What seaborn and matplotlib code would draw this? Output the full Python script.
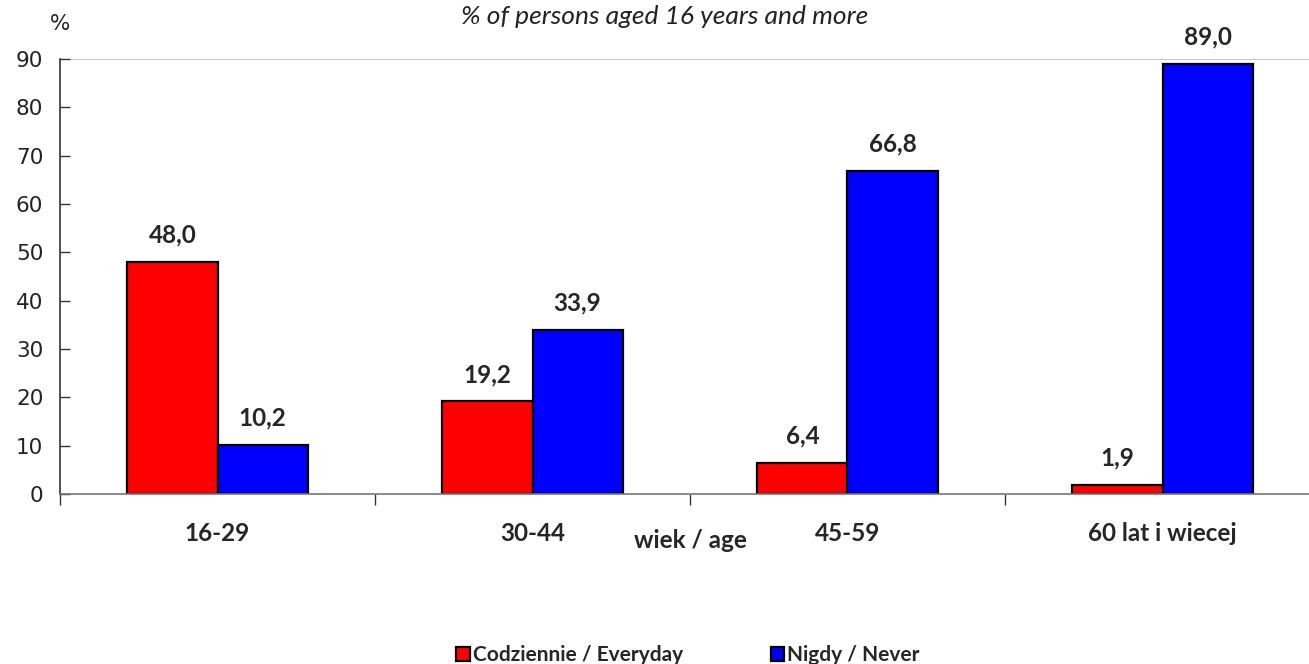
import matplotlib
matplotlib.use("Agg")
import matplotlib.pyplot as plt
import seaborn as sns
import pandas as pd

categories = ["16-29", "30-44", "45-59", "60 lat i wiecej"]
series_names = ["Codziennie / Everyday", "Nigdy / Never"]
everyday = [48.0, 19.2, 6.4, 1.9]
never = [10.2, 33.9, 66.8, 89.0]
y_ticks = [0, 10, 20, 30, 40, 50, 60, 70, 80, 90]

df = pd.DataFrame({
    "age": categories * 2,
    "series": [series_names[0]] * 4 + [series_names[1]] * 4,
    "value": everyday + never,
})

sns.set_theme(style="white")
plt.rcParams['font.family'] = ['Lato', 'DejaVu Sans']

fig = plt.figure(figsize=(13.09, 6.64), dpi=100)
ax = fig.add_axes([60 / 1309, 170 / 664, 1260 / 1309, 435 / 664])

sns.barplot(data=df, x="age", y="value", hue="series", order=categories,
            hue_order=series_names, palette=["#ff0000", "#0000ff"],
            width=0.572, edgecolor="black", linewidth=1.6, saturation=1,
            ax=ax, legend=True)

for cont in ax.containers:
    labels = [f"{b.get_height():.1f}".replace(".", ",") for b in cont]
    ax.bar_label(cont, labels=labels, padding=11, fontsize=17.5, fontweight="bold")

ax.set_xlim(-0.5, 3.5)
ax.set_ylim(0, 90)
ax.set_yticks(y_ticks, labels=[str(t) for t in y_ticks],
              fontsize=15.5, family="DejaVu Sans", color="#222222")
ax.tick_params(axis="y", direction="in", length=7, width=1, color="#333333",
               pad=12, left=True)
ax.tick_params(axis="x", which="major", length=0, pad=20, labelsize=17.5)
for lab in ax.get_xticklabels():
    lab.set_fontweight("bold")
ax.set_xticks([-0.5, 0.5, 1.5, 2.5, 3.5], minor=True)
ax.tick_params(axis="x", which="minor", direction="out", length=8, width=1,
               color="#333333", bottom=True)

ax.axhline(90, color="#bbbbbb", linewidth=1.2, zorder=0)
for s in ["top", "right"]:
    ax.spines[s].set_visible(False)
ax.spines["left"].set_color("#333333")
ax.spines["left"].set_linewidth(1.2)
ax.spines["bottom"].set_color("#777777")
ax.spines["bottom"].set_linewidth(1.2)

ax.set_xlabel("")
ax.set_ylabel("")

fig.text(690 / 1309, 1 - 541 / 664, "wiek / age", ha="center", va="center",
         fontsize=17.5, fontweight="bold")
fig.text(665 / 1309, 1 - 16 / 664, "% of persons aged 16 years and more",
         ha="center", va="center", fontsize=19, style="italic", color="#222222")
fig.text(60 / 1309, 1 - 24 / 664, "%", ha="center", va="center", fontsize=15.5,
         family="DejaVu Sans", color="#222222")

handles, labels = ax.get_legend_handles_labels()
ax.legend_.remove()
leg = fig.legend(handles, labels, loc="center", bbox_to_anchor=(688 / 1309, 1 - 655 / 664),
                 ncol=2, frameon=False, handlelength=0.65, handleheight=0.65,
                 handletextpad=0.15, columnspacing=4.2,
                 prop={"weight": "bold", "size": 15})

fig.savefig("out.png", dpi=100)
